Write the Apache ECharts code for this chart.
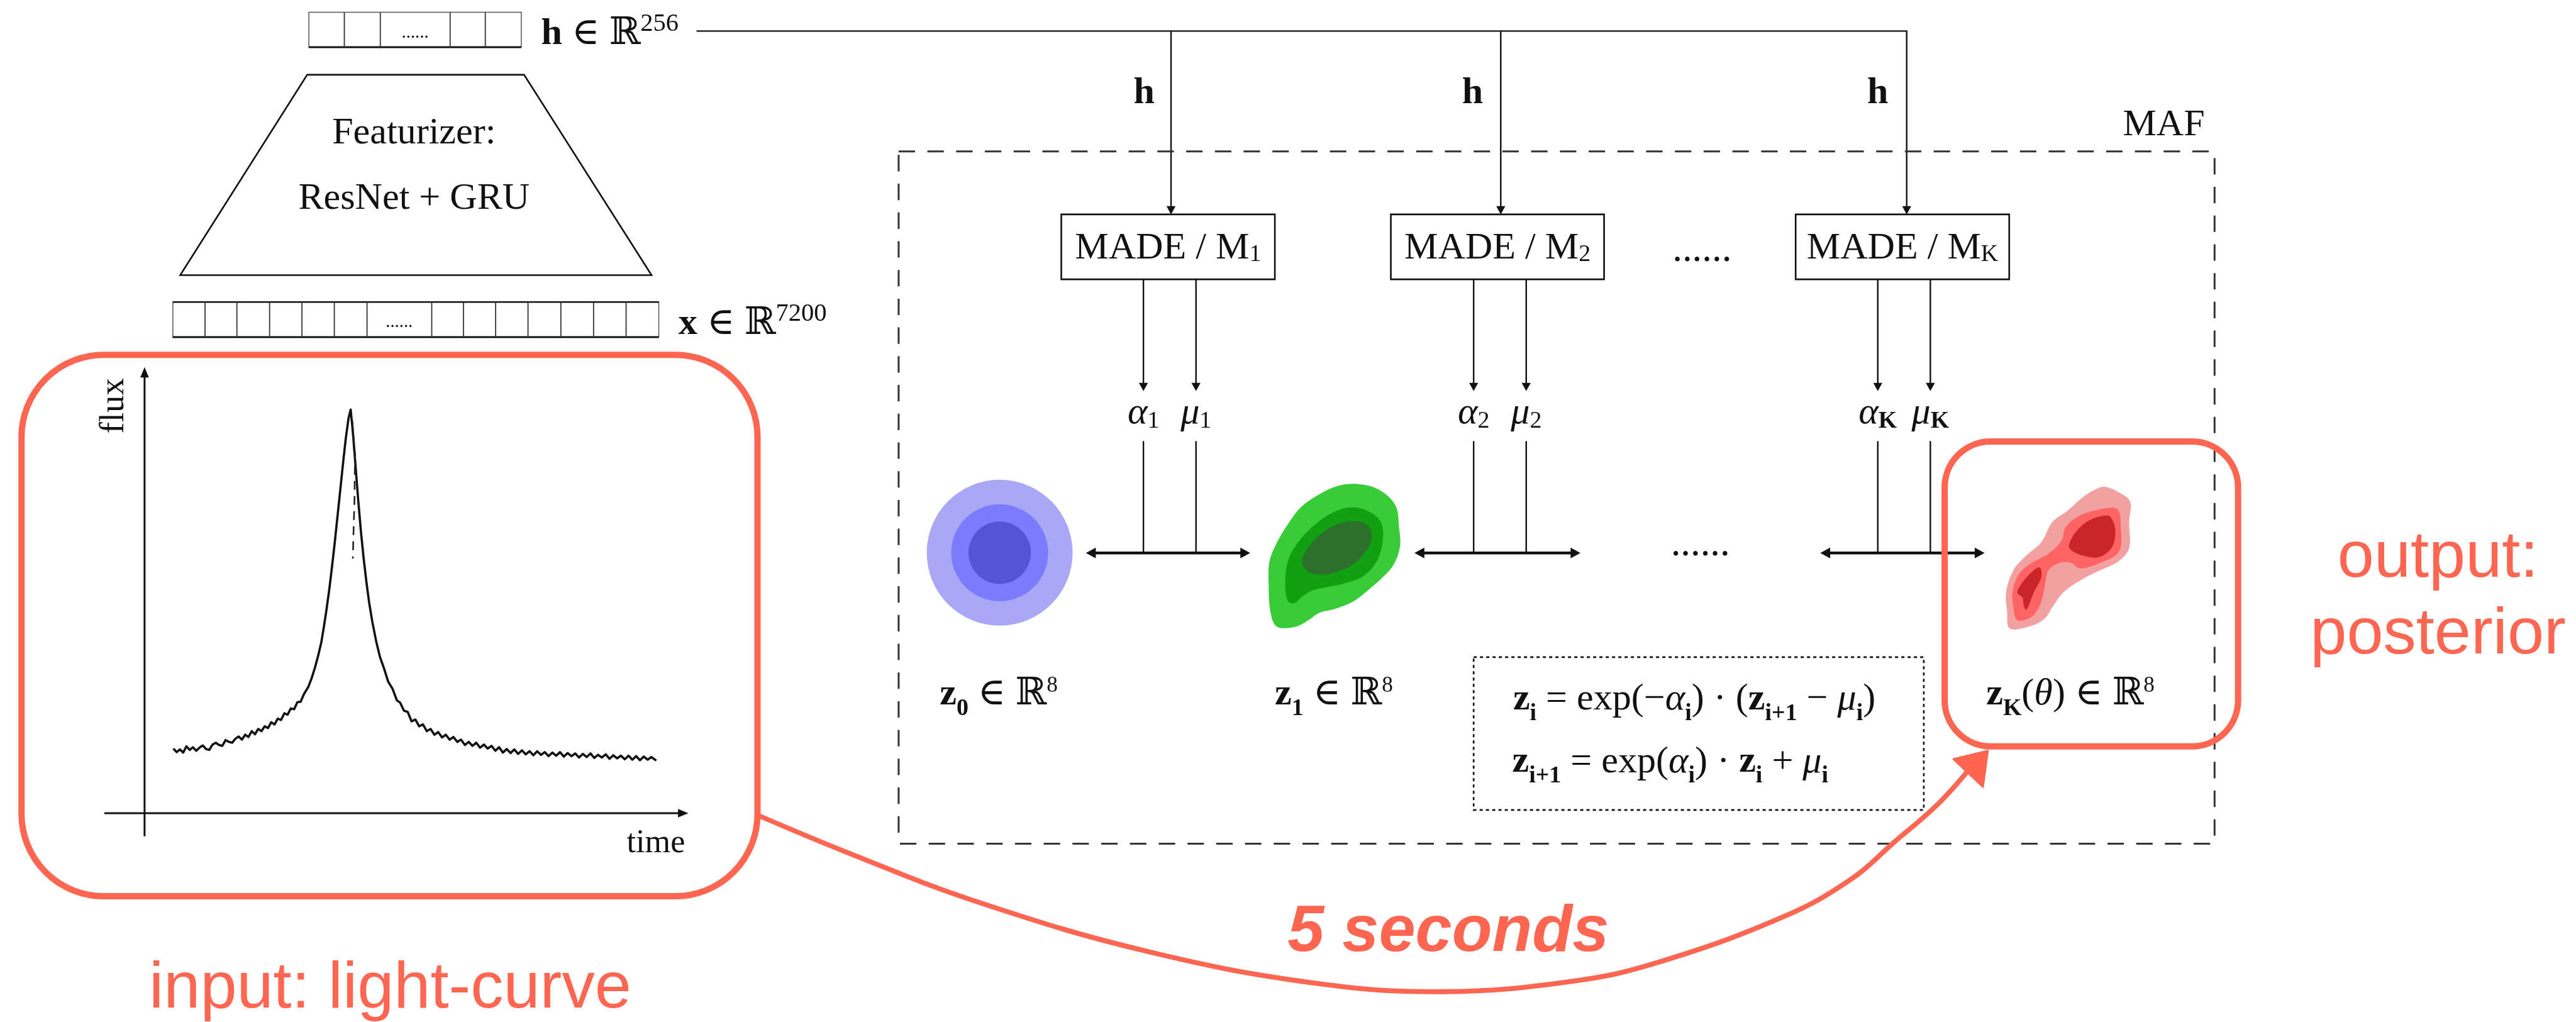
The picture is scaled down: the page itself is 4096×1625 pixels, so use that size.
<!DOCTYPE html>
<html><head><meta charset="utf-8">
<script src="https://cdn.jsdelivr.net/npm/echarts/dist/echarts.min.js"></script>
<style>html,body{margin:0;padding:0;background:#fff}#c{width:4096px;height:1625px}</style>
</head><body><div id="c"></div>
<script>
// ---------------- data ----------------
// light curve: time (0-100 across the x axis), flux (0-100 up the y axis)
const lcTime = [5.3,5.9,6.5,7.1,7.7,8.3,8.9,9.5,10.1,10.7,11.3,11.9,12.5,13.1,13.7,14.3,14.9,15.5,16.1,16.7,17.3,17.9,18.5,19.1,19.7,20.3,20.9,21.5,22.1,22.7,23.3,23.9,24.5,25.1,25.7,26.3,26.9,27.5,28.1,28.7,29.3,
  30.1,30.7,31.3,31.9,32.5,33.0,33.5,34.0,34.5,35.0,35.5,36.0,36.5,37.0,37.5,37.9,38.3,38.8,39.3,39.8,40.3,40.8,41.3,41.9,42.6,43.3,44.0,44.8,45.6,46.4,
  47.0,47.7,48.4,49.1,49.8,50.5,51.2,51.9,52.6,53.3,54.0,54.7,55.4,56.1,56.8,57.5,58.2,58.9,59.6,60.3,61.0,61.7,62.4,63.1,63.8,64.5,65.2,65.9,66.6,67.3,68.0,68.7,69.4,70.1,70.8,71.5,72.2,72.9,73.6,74.3,75.0,75.7,76.4,77.1,77.8,78.5,79.2,79.9,80.6,81.3,82.0,82.7,83.4,84.1,84.8,85.5,86.2,86.9,87.6,88.3,89.0,89.7,90.4,91.1,91.8,92.5,93.2,94.1];
const lcFlux = [14.5,13.7,14.3,13.6,15.0,14.2,14.8,14.0,14.7,15.2,14.4,14.2,15.4,15.8,15.3,15.1,16.4,16.0,15.8,16.7,17.2,16.5,17.6,17.1,18.4,17.7,18.9,18.4,19.5,19.1,20.4,19.9,21.2,20.9,22.4,22.1,23.5,23.3,24.9,25.0,26.7,
  28.3,30.2,32.5,35.2,38.3,42.0,46.0,50.5,55.6,61.0,66.8,72.6,78.5,84.0,88.5,90.5,85.5,77.8,70.0,63.0,57.0,51.8,47.2,42.8,38.5,35.0,32.6,29.5,27.9,25.3,
  24.8,23.0,22.7,20.6,21.0,19.5,19.9,18.4,18.9,17.6,18.2,17.0,17.6,16.5,17.1,16.0,16.5,15.3,16.0,15.1,15.8,14.7,15.4,14.5,15.1,14.0,14.8,13.6,14.4,13.5,14.3,13.3,14.1,13.2,13.9,13.0,13.9,13.1,13.7,12.8,13.6,12.9,13.7,12.7,13.5,12.8,13.4,12.5,13.3,12.6,13.4,12.4,13.1,12.5,13.2,12.2,13.0,12.3,12.9,12.1,12.9,12.0,12.8,11.9,12.7,12.0,12.6,11.8];
// model (dashed) near the peak
const modelTime = [38.2, 38.7, 38.6, 38.4, 38.3];
const modelFlux = [88.0, 80.5, 70.0, 62.0, 57.1];

// density blobs (page units of a 1568 x 622 frame)
const blueCenter = [608.5, 336.4];
const blueRadii = [44.4, 29.5, 19.0];
const blueColors = ['#A8A8F4', '#7B7BFD', '#5455D6'];
const greenOuter = [[826.9,294.6],[839.3,298.0],[849.4,307.6],[851.6,321.1],[852.2,332.4],[848.3,343.6],[841.5,351.5],[832.5,359.4],[823.5,366.2],[812.2,370.7],[803.2,372.9],[796.5,377.4],[788.6,381.4],[777.3,381.4],[773.4,372.9],[772.2,354.9],[772.8,341.4],[777.3,330.1],[784.1,318.8],[791.9,308.7],[803.2,300.8],[814.5,295.7]];
const greenMid = [[823.5,308.7],[834.7,312.1],[841.0,318.8],[841.5,330.1],[838.1,341.4],[830.2,350.4],[819.0,354.9],[808.8,357.1],[798.7,359.4],[793.1,362.8],[787.4,367.3],[783.5,365.0],[782.4,350.4],[785.2,338.0],[791.9,327.9],[800.9,318.8],[812.2,311.5]];
const greenInner = [[826.9,317.2],[833.6,321.1],[834.7,327.9],[831.4,335.7],[823.5,343.6],[813.3,348.1],[805.5,349.8],[796.5,348.1],[792.5,342.5],[795.3,334.6],[803.2,325.6],[814.5,318.8]];
const redOuter = [[1280.8,296.3],[1289.8,299.7],[1296.6,305.3],[1296.0,317.7],[1296.0,333.5],[1289.8,341.4],[1278.6,347.0],[1267.3,352.6],[1256.0,360.5],[1249.3,369.5],[1244.8,376.3],[1236.9,380.8],[1223.4,382.5],[1221.7,371.8],[1221.1,360.5],[1225.6,347.0],[1233.5,338.0],[1242.5,330.1],[1249.3,317.7],[1258.3,311.0],[1267.3,303.1],[1274.1,298.6]];
const redMid = [[1288.7,309.8],[1290.9,321.1],[1289.8,335.7],[1278.6,342.5],[1266.2,345.9],[1260.5,342.5],[1253.8,342.5],[1247.0,347.0],[1244.8,356.0],[1242.5,366.2],[1236.9,375.2],[1227.9,377.4],[1225.6,369.5],[1225.0,360.5],[1229.0,349.3],[1236.9,342.5],[1247.0,336.9],[1254.9,329.0],[1257.2,321.1],[1265.0,314.3],[1276.3,310.4]];
const redInnerA = [[1283.1,313.8],[1286.4,317.7],[1287.6,324.5],[1285.3,333.5],[1277.4,339.1],[1267.3,338.0],[1260.5,334.6],[1259.4,331.2],[1263.9,323.3],[1271.8,316.6]];
const redInnerB = [[1241.4,345.3],[1242.5,351.5],[1238.0,360.5],[1233.5,371.2],[1231.8,368.4],[1231.2,363.9],[1227.9,360.5],[1233.5,351.5]];

// vector cell dividers
const hCells = [209.6, 231.5, 274, 295.4];
const xCells = [124.8, 144.2, 164.1, 183.8, 203.5, 223.4, 262.8, 282.1, 301.7, 321.4, 341.4, 361.3, 381.1];
const madeX = [[646,776],[846.6,976.4],[1093,1223]];
const madeSub = ['1','2','K'];
const hDropX = [712.8, 913.5, 1160.6];
const amX = [[696,728],[897,929],[1143,1175]];
const dblX = [[661,761],[861,962],[1108,1208]];

// ---------------- drawing ----------------
const S = 4096 / 1568;
const X = v => v * S;
const INK = '#111';
const ORANGE = '#FF6652';
const SERIF = "'Liberation Serif','DejaVu Serif',serif";
const SANS = "'Liberation Sans',Arial,sans-serif";
const M = 23, SUB = 14.5, SUP = 15.5, SUP8 = 13.5;
const els = [];
const cv = document.createElement('canvas').getContext('2d');
function fontStr(p){ return `${p.style} ${p.weight} ${p.size.toFixed(1)}px ${p.family}`; }

function seg(x1,y1,x2,y2,lw,color,dash){
  const st = {stroke: color||INK, lineWidth: lw, lineCap:'butt'};
  if (dash) st.lineDash = dash;
  els.push({type:'line', silent:true, shape:{x1:X(x1),y1:X(y1),x2:X(x2),y2:X(y2)}, style:st});
}
function head(x,y,dx,dy,hl,hw,color){
  const bx = x-dx*hl, by = y-dy*hl, px = -dy, py = dx;
  els.push({type:'polygon', silent:true, shape:{points:[[X(x),X(y)],[X(bx+px*hw/2),X(by+py*hw/2)],[X(bx-px*hw/2),X(by-py*hw/2)]]}, style:{fill:color||INK}});
}
function arrow(x1,y1,x2,y2,lw,hl,hw){
  const L = Math.hypot(x2-x1,y2-y1), dx=(x2-x1)/L, dy=(y2-y1)/L;
  seg(x1,y1,x2-dx*hl*0.8,y2-dy*hl*0.8,lw); head(x2,y2,dx,dy,hl,hw);
}
function dbl(x1,x2,y,lw,hl,hw){
  seg(x1+hl*0.8,y,x2-hl*0.8,y,lw); head(x1,y,-1,0,hl,hw); head(x2,y,1,0,hl,hw);
}
function box(x1,y1,x2,y2,lw,opt){
  opt = opt||{};
  const st = {fill:'none', stroke:opt.color||INK, lineWidth:lw};
  if (opt.dash) st.lineDash = opt.dash;
  els.push({type:'rect', silent:true, shape:{x:X(x1),y:X(y1),width:X(x2-x1),height:X(y2-y1),r:opt.r?X(opt.r):0}, style:st});
}
function run(x, base, pieces, align, color, family){
  const ps = pieces.map(p => ({t:p.t, size:(p.size||M)*S, weight:p.w||'normal', style:p.it?'italic':'normal', family:p.f||family||SERIF, dy:p.dy||0}));
  const ws = ps.map(p => { cv.font = fontStr(p); return cv.measureText(p.t).width; });
  const total = ws.reduce((a,b)=>a+b,0);
  let cx = X(x) - (align==='center' ? total/2 : align==='right' ? total : 0);
  ps.forEach((p,i) => {
    const b = X(base + p.dy);
    els.push({type:'text', silent:true, style:{text:p.t, x:cx, y:b-0.31*p.size, font:fontStr(p), fill:color||INK, align:'left', verticalAlign:'middle'}});
    cx += ws[i];
  });
}

// --- h vector
box(188,7.5,317.3,28.7,1.5,{color:'#555'});
seg(188,28.7,317.3,28.7,3);
hCells.forEach(c => seg(c,7.5,c,28.7,1.8,'#333'));
run(252.7, 23.5, [{t:'......',size:11}], 'center');
run(329.4, 27.9, [{t:'h',w:'bold'},{t:' ∈ '},{t:'ℝ'},{t:'256',size:SUP,dy:-8.3}], 'left');

// --- featurizer trapezoid
els.push({type:'polygon', silent:true, shape:{points:[[X(187),X(45.5)],[X(319),X(45.5)],[X(396.6),X(167.5)],[X(109.7),X(167.5)]]}, style:{fill:'none', stroke:INK, lineWidth:2.6}});
run(252, 88.3, [{t:'Featurizer:'}], 'center');
run(252, 128, [{t:'ResNet + GRU'}], 'center');

// --- x vector
box(105.2,183.8,401,205.2,1.5,{color:'#555'});
seg(105.2,183.8,401,183.8,2.5);
seg(105.2,205.2,401,205.2,3);
xCells.forEach(c => seg(c,183.8,c,205.2,1.8,'#333'));
run(243, 199.5, [{t:'......',size:11}], 'center');
run(413, 204.4, [{t:'x',w:'bold'},{t:' ∈ '},{t:'ℝ'},{t:'7200',size:SUP,dy:-8.4}], 'left');

// --- h bus line and drops
seg(424,18.9,1160.6+0.4,18.9,2.4);
hDropX.forEach(x => arrow(x,18.9,x,130.5,2.4,5,5.5));
[696.4,896.3,1143].forEach(x => run(x, 64.1, [{t:'h',w:'bold'}], 'center'));

// --- MAF dashed box
box(547,92.2,1348,513.5,3,{color:'#333', dash:[X(10),X(7.5)]});
run(1342, 83.3, [{t:'MAF'}], 'right');

// --- MADE boxes
madeX.forEach((m,i) => {
  box(m[0],130.5,m[1],170,2.6);
  run((m[0]+m[1])/2, 158.6, [{t:'MADE / M'},{t:madeSub[i],size:SUB,dy:0.8}], 'center');
});
run(1036, 160, [{t:'......',size:24}], 'center');

// --- alpha / mu arrows and labels
amX.forEach((p,i) => {
  const k = madeSub[i], bold = k==='K' ? 'bold' : 'normal';
  arrow(p[0],170,p[0],238,2.4,5,5.5);
  arrow(p[1],170,p[1],238,2.4,5,5.5);
  run(p[0], 258.6, [{t:'α',it:1},{t:k,size:SUB,dy:2.5,w:bold}], 'center');
  run(p[1], 258.6, [{t:'μ',it:1},{t:k,size:SUB,dy:2.5,w:bold}], 'center');
  seg(p[0],268.5,p[0],336.6,2.4);
  seg(p[1],268.5,p[1],336.6,2.4);
});
dblX.forEach(d => dbl(d[0],d[1],336.6,4.6,6,6.5));
run(1035, 339, [{t:'......',size:24}], 'center');

// --- z labels
run(572, 430, [{t:'z',w:'bold'},{t:'0',w:'bold',size:SUB,dy:6},{t:' ∈ '},{t:'ℝ'},{t:'8',size:SUP8,dy:-8.4}], 'left');
run(776, 430, [{t:'z',w:'bold'},{t:'1',w:'bold',size:SUB,dy:6},{t:' ∈ '},{t:'ℝ'},{t:'8',size:SUP8,dy:-8.4}], 'left');
run(1209, 430, [{t:'z',w:'bold'},{t:'K',w:'bold',size:SUB,dy:6},{t:'('},{t:'θ',it:1},{t:')'},{t:' ∈ '},{t:'ℝ'},{t:'8',size:SUP8,dy:-8.4}], 'left');

// --- formula box
box(897,400,1171,493,2.6,{dash:[5,5]});
run(921, 433, [{t:'z',w:'bold'},{t:'i',w:'bold',size:SUB,dy:6},{t:' = '},{t:'exp('},{t:'−'},{t:'α',it:1},{t:'i',w:'bold',size:SUB,dy:6},{t:')'},{t:' · '},{t:'('},{t:'z',w:'bold'},{t:'i+1',w:'bold',size:SUB,dy:6},{t:' − '},{t:'μ',it:1},{t:'i',w:'bold',size:SUB,dy:6},{t:')'}], 'left');
run(920.5, 471, [{t:'z',w:'bold'},{t:'i+1',w:'bold',size:SUB,dy:6},{t:' = '},{t:'exp('},{t:'α',it:1},{t:'i',w:'bold',size:SUB,dy:6},{t:')'},{t:' · '},{t:'z',w:'bold'},{t:'i',w:'bold',size:SUB,dy:6},{t:' + '},{t:'μ',it:1},{t:'i',w:'bold',size:SUB,dy:6}], 'left');

// --- light curve axes
arrow(88,509,88,223.5,3,6.3,5.2);
arrow(63.5,495,419,495,3,6.3,5.2);
els.push({type:'text', silent:true, x:X(69.5), y:X(247), rotation:Math.PI/2, style:{text:'flux', x:0, y:0, font:`normal normal ${(21*S).toFixed(1)}px ${SERIF}`, fill:INK, align:'center', verticalAlign:'middle'}});
run(417, 519.8, [{t:'time',size:20}], 'right');

// --- orange boxes and texts
box(13.1,216,461.1,545.5,10,{color:ORANGE, r:50});
box(1183.7,268.7,1362.3,454.3,10,{color:ORANGE, r:28});
run(237.5, 614.7, [{t:'input: light-curve',size:40}], 'center', ORANGE, SANS);
run(1484, 352.6, [{t:'output:',size:40}], 'center', ORANGE, SANS);
run(1484, 399, [{t:'posterior',size:40}], 'center', ORANGE, SANS);
run(881.5, 580, [{t:'5 seconds',size:40,w:'bold',it:1}], 'center', ORANGE, SANS);

// --- curved arrow
const curvePts = [[462.7,496.8],[517,519.4],[594.5,548.8],[698,579],[801,598.5],[879,603.6],[956.7,597.3],[1008.5,586],[1086,557.8],[1127,535],[1153,512.6],[1179,490],[1198,469]];
els.push({type:'polyline', silent:true, shape:{points:curvePts.map(p=>[X(p[0]),X(p[1])]), smooth:0.4}, style:{stroke:ORANGE, lineWidth:X(3), fill:null, lineCap:'round'}});
els.push({type:'polygon', silent:true, shape:{points:[[X(1210),X(457)],[X(1189),X(462)],[X(1207),X(479)]]}, style:{fill:ORANGE, stroke:ORANGE, lineWidth:3, lineJoin:'round'}});

// --- blob shapes via custom series on a page-frame cartesian grid
const blobShapes = [];
blueRadii.forEach((r,i) => blobShapes.push({kind:'circle', c:blueCenter, r:r, color:blueColors[i]}));
[[greenOuter,'#39CC39'],[greenMid,'#10A010'],[greenInner,'#2D702D'],
 [redOuter,'#F2A0A0'],[redMid,'#FE6464'],[redInnerA,'#CC2529'],[redInnerB,'#CC2529']].forEach(([pts,col]) => {
  const cx = pts.reduce((a,p)=>a+p[0],0)/pts.length, cy = pts.reduce((a,p)=>a+p[1],0)/pts.length;
  blobShapes.push({kind:'poly', pts:pts, c:[cx,cy], color:col});
});

const chart = echarts.init(document.getElementById('c'), null, {renderer:'canvas'});
chart.setOption({
  animation: false,
  backgroundColor: '#fff',
  grid: [
    {left:X(88), top:X(223.5), width:X(331), height:X(271.5), outerBoundsMode:'none', containLabel:false},
    {left:0, top:0, width:4096, height:1625, outerBoundsMode:'none', containLabel:false}
  ],
  xAxis: [
    {type:'value', gridIndex:0, min:0, max:100, show:false},
    {type:'value', gridIndex:1, min:0, max:1568, show:false}
  ],
  yAxis: [
    {type:'value', gridIndex:0, min:0, max:100, show:false},
    {type:'value', gridIndex:1, min:0, max:622, inverse:true, show:false}
  ],
  series: [
    {type:'line', xAxisIndex:0, yAxisIndex:0, silent:true, symbol:'none',
     data: lcTime.map((t,i)=>[t, lcFlux[i]]),
     lineStyle:{color:'#111', width:3.6, join:'round'}},
    {type:'line', xAxisIndex:0, yAxisIndex:0, silent:true, symbol:'none',
     data: modelTime.map((t,i)=>[t, modelFlux[i]]),
     lineStyle:{color:'#222', width:2.6, type:[14,10]}},
    {type:'custom', xAxisIndex:1, yAxisIndex:1, silent:true,
     data: blobShapes.map(b => [b.c[0], b.c[1]]),
     encode:{x:0, y:1},
     renderItem: function(params, api){
       const b = blobShapes[params.dataIndex];
       if (b.kind === 'circle') {
         const c = api.coord(b.c);
         const r = api.size([b.r, 0])[0];
         return {type:'circle', shape:{cx:c[0], cy:c[1], r:r}, style:{fill:b.color}};
       }
       return {type:'polygon', shape:{points:b.pts.map(p=>api.coord(p)), smooth:0.35}, style:{fill:b.color}};
     }}
  ],
  graphic: {elements: els}
});
</script>
</body></html>
